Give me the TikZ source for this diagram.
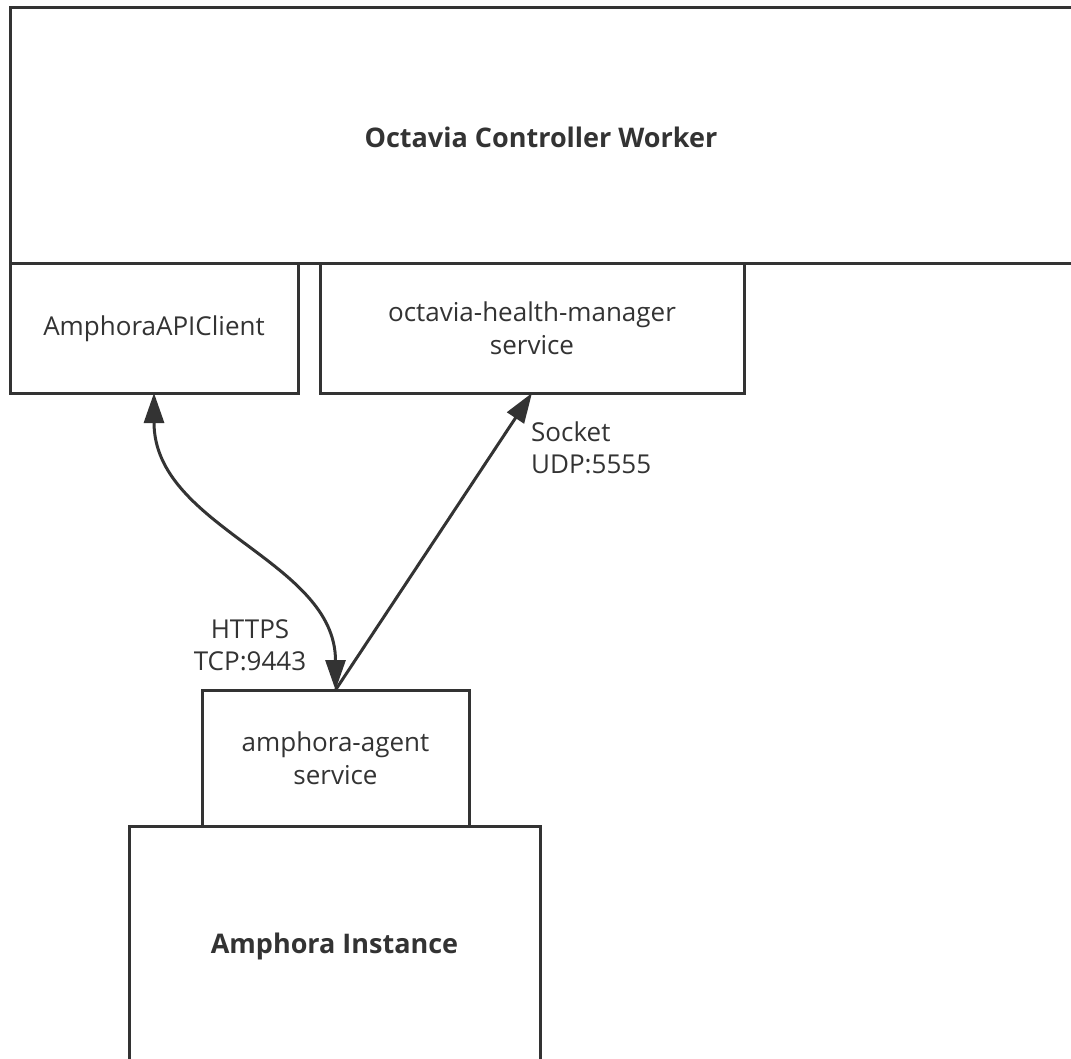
\documentclass[tikz,border=0pt]{standalone}
\usepackage{fontspec}
\setmainfont{Open Sans}
\usetikzlibrary{arrows.meta}
\definecolor{ink}{HTML}{333333}
\begin{document}
\begin{tikzpicture}[x=1pt,y=-1pt,
  box/.style={draw=ink, line width=3pt, rectangle, inner sep=0pt, outer sep=0pt, text=ink, font=\fontsize{26}{33}\selectfont, align=center},
  lbl/.style={text=ink, font=\fontsize{26}{32}\selectfont, align=center, inner sep=0pt},
  ttl/.style={text=ink, font=\fontsize{27}{33}\selectfont\bfseries, inner sep=0pt},
  conn/.style={draw=ink, line width=3pt}
]
\clip (0,0) rectangle (1071,1059);
\fill[white] (0,0) rectangle (1071,1059);
\node[box, minimum width=1080pt, minimum height=256pt, anchor=north west] (ocw) at (10,8) {};
\node[ttl] (ocwt) at (541,137) {Octavia Controller Worker};
\node[box, minimum width=288pt, minimum height=129pt, anchor=north west] (api) at (10,264) {AmphoraAPIClient};
\node[box, minimum width=424pt, minimum height=129pt, anchor=north west] (hm) at (320,264) {octavia-health-manager\\service};
\node[box, minimum width=267pt, minimum height=136pt, anchor=north west] (agent) at (202,690) {amphora-agent\\service};
\node[box, minimum width=411pt, minimum height=240pt, anchor=north west, font=\fontsize{27}{33}\selectfont\bfseries] (inst) at (129,826) {Amphora Instance};
\draw[conn, {Triangle[length=30pt,width=20pt]}-{Triangle[length=30pt,width=20pt]}] (api.south) .. controls +(0,135) and +(0,-130) .. (agent.north);
\draw[conn, -{Triangle[length=30pt,width=20pt]}] (agent.north) -- (hm.south);
\node[lbl, anchor=west, align=left] (udp) at (531,448) {Socket\\UDP:5555};
\node[lbl] (tcp) at (250,645) {HTTPS\\TCP:9443};
\end{tikzpicture}
\end{document}
